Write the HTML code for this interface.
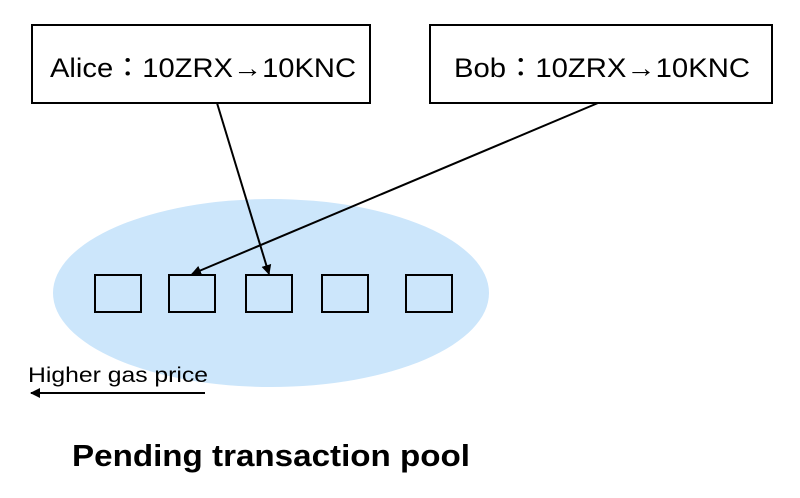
<!DOCTYPE html>
<html><head><meta charset="utf-8"><style>
html,body{margin:0;padding:0;background:#fff;}
svg{display:block;}
text{font-family:"Liberation Sans","Noto Sans CJK JP",sans-serif;}
</style></head><body>
<svg width="800" height="498" viewBox="0 0 800 498" xmlns="http://www.w3.org/2000/svg">
<defs>
<marker id="ah" markerWidth="10" markerHeight="10" refX="9" refY="5" orient="auto" markerUnits="userSpaceOnUse">
<path d="M0,0 L10,5 L0,10 z" fill="#000"/>
</marker>
</defs>
<ellipse cx="271" cy="293" rx="218" ry="94" fill="#cce6fb"/>
<rect x="32" y="25" width="338" height="78" fill="#fff" stroke="#000" stroke-width="2"/>
<rect x="430" y="25" width="342" height="78" fill="#fff" stroke="#000" stroke-width="2"/>
<text x="50" y="77" font-size="27" textLength="306" lengthAdjust="spacingAndGlyphs">Alice：10ZRX→10KNC</text>
<text x="454" y="77" font-size="27" textLength="296" lengthAdjust="spacingAndGlyphs">Bob：10ZRX→10KNC</text>
<g fill="none" stroke="#000" stroke-width="2">
<rect x="95" y="275" width="46" height="37"/>
<rect x="169" y="275" width="46" height="37"/>
<rect x="246" y="275" width="46" height="37"/>
<rect x="322" y="275" width="46" height="37"/>
<rect x="406" y="275" width="46" height="37"/>
<line x1="217" y1="103" x2="269" y2="274" marker-end="url(#ah)"/>
<line x1="598" y1="103" x2="192" y2="274" marker-end="url(#ah)"/>
<line x1="205" y1="393" x2="31" y2="393" marker-end="url(#ah)"/>
</g>
<text x="28" y="382" font-size="21" textLength="180" lengthAdjust="spacingAndGlyphs">Higher gas price</text>
<text x="72" y="466" font-size="31" font-weight="bold" textLength="398" lengthAdjust="spacingAndGlyphs">Pending transaction pool</text>
</svg>
</body></html>
